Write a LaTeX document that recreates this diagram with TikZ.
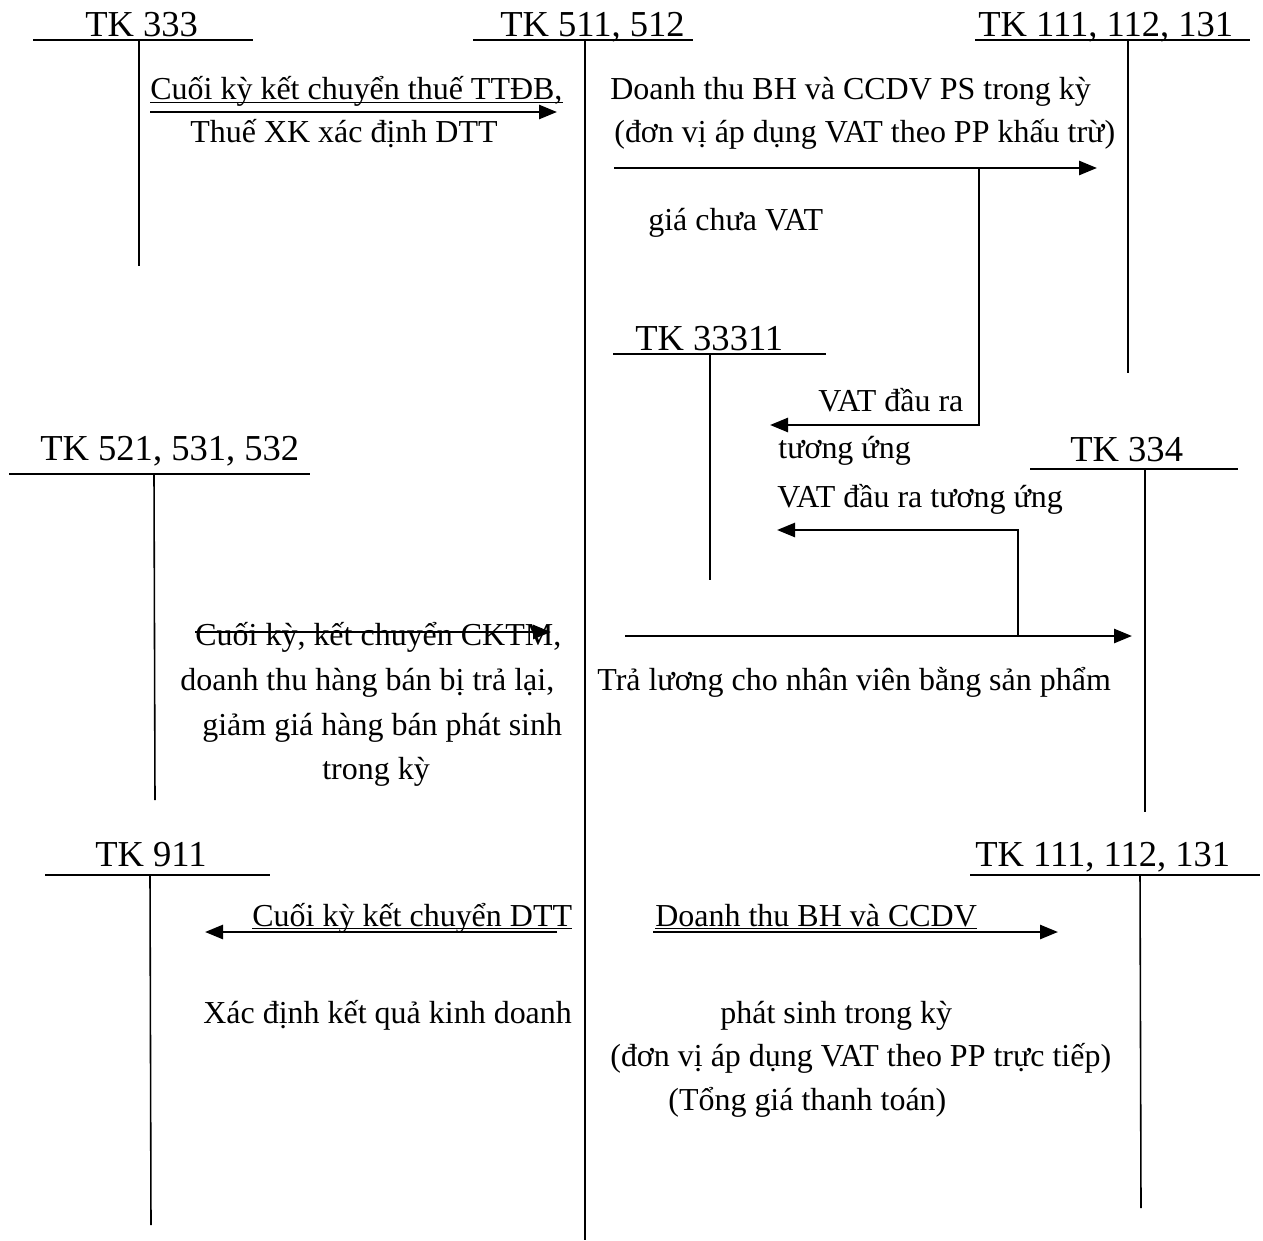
\documentclass[tikz,border=0pt]{standalone}
\usepackage{fontspec}
\setmainfont{Liberation Serif}
\usetikzlibrary{arrows.meta}

\begin{document}
\begin{tikzpicture}[x=0.02cm, y=-0.02cm,
  tline/.style={line width=0.9pt},
  uline/.style={line width=0.7pt},
  flow/.style={line width=1.5pt, -{Triangle[length=0.36cm, width=0.28cm]}},
  acc/.style={font=\fontsize{20.8}{25}\selectfont, inner sep=0pt, anchor=base west},
  txt/.style={font=\fontsize{18.2}{22}\selectfont, inner sep=0pt, anchor=base west}]
  \useasboundingbox (0,0) rectangle (1263,1240);

  % --- TK 333 ---
  \node[acc] (tk333) at (85,37) {TK 333};
  \draw[tline] (33,40) -- (253,40);
  \draw[tline] (139,40) -- (139,266);

  % --- TK 511, 512 ---
  \node[acc] (tk511) at (500,37) {TK 511, 512};
  \draw[tline] (473,40) -- (693,40);
  \draw[tline] (585,40) -- (585,1240);

  % --- TK 111, 112, 131 (top) ---
  \node[acc] (tk111a) at (978,37) {TK 111, 112, 131};
  \draw[tline] (975,40) -- (1250,40);
  \draw[tline] (1128,40) -- (1128,373);

  % --- TK 33311 ---
  \node[acc] (tk33311) at (635,350) {TK 33311};
  \draw[tline] (613,354) -- (826,354);
  \draw[tline] (710,354) -- (710,580);

  % --- TK 521, 531, 532 ---
  \node[acc] (tk521) at (40,460) {TK 521, 531, 532};
  \draw[tline] (9,474) -- (310,474);
  \draw[tline] (154,474) -- (155,800);

  % --- TK 334 ---
  \node[acc] (tk334) at (1070,461) {TK 334};
  \draw[tline] (1030,469) -- (1238,469);
  \draw[tline] (1145,469) -- (1145,812);

  % --- TK 911 ---
  \node[acc] (tk911) at (95,866) {TK 911};
  \draw[tline] (45,875) -- (270,875);
  \draw[tline] (150,875) -- (151,1225);

  % --- TK 111, 112, 131 (bottom) ---
  \node[acc] (tk111b) at (975,866) {TK 111, 112, 131};
  \draw[tline] (970,875) -- (1260,875);
  \draw[tline] (1140,875) -- (1141,1208);

  % --- arrow end points ---
  \coordinate (a1s) at (150,112);  \coordinate (a1e) at (557,112);
  \coordinate (a2s) at (614,168);  \coordinate (a2e) at (1097,168);
  \coordinate (a3s) at (979,168);  \coordinate (a3k) at (979,425);
  \coordinate (a3e) at (770,425);
  \coordinate (a4s) at (1018,636); \coordinate (a4k) at (1018,530);
  \coordinate (a4e) at (777,530);
  \coordinate (a5s) at (625,636);  \coordinate (a5e) at (1132,636);
  \coordinate (a6s) at (195,632);  \coordinate (a6e) at (551,632);
  \coordinate (a7s) at (557,932);  \coordinate (a7e) at (205,932);
  \coordinate (a8s) at (653,932);  \coordinate (a8e) at (1058,932);

  \draw[flow] (a1s) -- (a1e);
  \draw[flow] (a2s) -- (a2e);
  \draw[flow] (a3s) -- (a3k) -- (a3e);
  \draw[flow] (a4s) -- (a4k) -- (a4e);
  \draw[flow] (a5s) -- (a5e);
  \draw[flow] (a6s) -- (a6e);
  \draw[flow] (a7s) -- (a7e);
  \draw[flow] (a8s) -- (a8e);

  % --- labels ---
  \node[txt] (t1) at (150,100) {Cuối kỳ kết chuyển thuế TTĐB,};
  \node[txt] (t2) at (190,143) {Thuế XK xác định DTT};
  \node[txt] (t3) at (610,100) {Doanh thu BH và CCDV PS trong kỳ};
  \node[txt] (t4) at (614,143) {(đơn vị áp dụng VAT theo PP khấu trừ)};
  \node[txt] (t5) at (648,230) {giá chưa VAT};
  \node[txt] (t6) at (818,411) {VAT đầu ra};
  \node[txt] (t7) at (778,458) {tương ứng};
  \node[txt] (t8) at (777,507) {VAT đầu ra tương ứng};
  \node[txt] (t9) at (195,645) {Cuối kỳ, kết chuyển CKTM,};
  \node[txt] (t10) at (180,690) {doanh thu hàng bán bị trả lại,};
  \node[txt] (t11) at (202,735) {giảm giá hàng bán phát sinh};
  \node[txt] (t12) at (322,779) {trong kỳ};
  \node[txt] (t13) at (597,690) {Trả lương cho nhân viên bằng sản phẩm};
  \node[txt] (t14) at (252,926) {Cuối kỳ kết chuyển DTT};
  \node[txt] (t15) at (203,1023) {Xác định kết quả kinh doanh};
  \node[txt] (t16) at (655,926) {Doanh thu BH và CCDV};
  \node[txt] (t17) at (720,1023) {phát sinh trong kỳ};
  \node[txt] (t18) at (610,1066) {(đơn vị áp dụng VAT theo PP trực tiếp)};
  \node[txt] (t19) at (668,1110) {(Tổng giá thanh toán)};

  % --- underlines ---
  \draw[uline] ([yshift=-0.05cm]t1.base west) -- ([yshift=-0.05cm]t1.base east);
  \draw[uline] ([yshift=-0.05cm]t14.base west) -- ([yshift=-0.05cm]t14.base east);
  \draw[uline] ([yshift=-0.05cm]t16.base west) -- ([yshift=-0.05cm]t16.base east);
\end{tikzpicture}
\end{document}
